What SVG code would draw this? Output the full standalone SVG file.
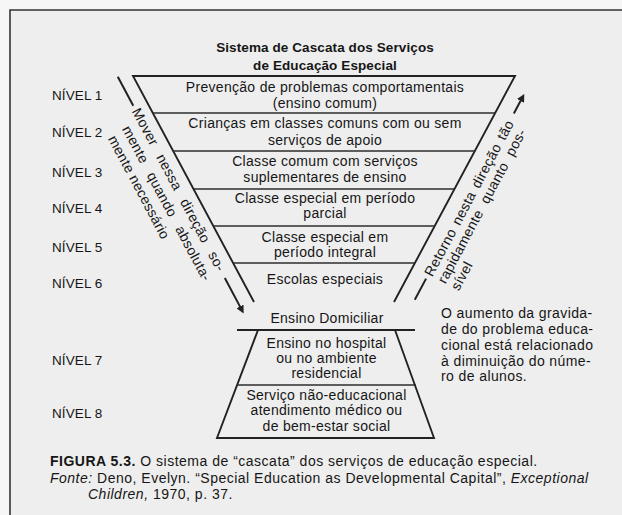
<svg xmlns="http://www.w3.org/2000/svg" width="622" height="515" viewBox="0 0 622 515">
<defs>
<marker id="ah" viewBox="0 0 10 10" refX="1" refY="5" markerWidth="4" markerHeight="4" orient="auto" markerUnits="strokeWidth">
<path d="M0,0 L10,5 L0,10 z" fill="#222"/>
</marker>
<style>
text{font-family:"Liberation Sans",Arial,sans-serif;fill:#161616;font-size:14px;letter-spacing:0.3px}
.c{text-anchor:middle}
.t{font-weight:bold;font-size:13.5px;letter-spacing:0.1px}
.lv{font-size:13.5px;letter-spacing:0.1px}
.cap{font-size:14px;letter-spacing:0.5px}
.ln{stroke:#222;stroke-width:1.9;fill:none}
.dv{stroke:#2c2c2c;stroke-width:1.7;fill:none}
.ar{stroke:#222;stroke-width:2;fill:none}
</style>
</defs>
<rect x="0" y="0" width="622" height="515" fill="#f6f6f6"/>
<rect x="10" y="10" width="612" height="505" fill="#eeeeee"/>
<path d="M10,515 L10,10 L622,10" stroke="#333" stroke-width="1.6" fill="none"/>

<g id="title">
<text class="t c" x="325" y="52">Sistema de Cascata dos Serviços</text>
<text class="t c" x="325" y="70">de Educação Especial</text>
</g>

<g id="levels">
<text class="lv" x="52" y="100">NÍVEL 1</text>
<text class="lv" x="52" y="137">NÍVEL 2</text>
<text class="lv" x="52" y="177">NÍVEL 3</text>
<text class="lv" x="52" y="213">NÍVEL 4</text>
<text class="lv" x="52" y="252">NÍVEL 5</text>
<text class="lv" x="52" y="288">NÍVEL 6</text>
<text class="lv" x="52" y="365">NÍVEL 7</text>
<text class="lv" x="52" y="418">NÍVEL 8</text>
</g>

<g id="upper-cascade">
<path class="ln" d="M254,302 L133,76 L515,76 L394,302"/>
<line class="dv" x1="152.8" y1="113" x2="495.2" y2="113"/>
<line class="dv" x1="173.2" y1="151" x2="474.8" y2="151"/>
<line class="dv" x1="193.6" y1="189" x2="454.4" y2="189"/>
<line class="dv" x1="213.4" y1="226" x2="434.6" y2="226"/>
<line class="dv" x1="233.2" y1="263" x2="414.8" y2="263"/>
</g>

<g id="n1"><text class="c" x="325" y="92">Prevenção de problemas comportamentais</text><text class="c" x="325" y="108">(ensino comum)</text></g>
<g id="n2"><text class="c" x="325" y="128">Crianças em classes comuns com ou sem</text><text class="c" x="325" y="145">serviços de apoio</text></g>
<g id="n3"><text class="c" x="325" y="166">Classe comum com serviços</text><text class="c" x="325" y="182">suplementares de ensino</text></g>
<g id="n4"><text class="c" x="325" y="203">Classe especial em período</text><text class="c" x="325" y="218">parcial</text></g>
<g id="n5"><text class="c" x="325" y="242">Classe especial em</text><text class="c" x="325" y="257">período integral</text></g>
<g id="n6"><text class="c" x="325" y="284">Escolas especiais</text></g>

<g id="n-domiciliar">
<text class="c" x="327" y="323">Ensino Domiciliar</text>
<line class="ln" x1="237" y1="330" x2="415" y2="330"/>
</g>

<g id="lower-cascade">
<path class="ln" d="M258,330 L217,438 L434,438 L395,330"/>
<line class="dv" x1="237" y1="385" x2="416" y2="385"/>
</g>
<g id="n7"><text class="c" x="326.5" y="348">Ensino no hospital</text><text class="c" x="326.5" y="363">ou no ambiente</text><text class="c" x="326.5" y="378">residencial</text></g>
<g id="n8"><text class="c" x="326.5" y="400">Serviço não-educacional</text><text class="c" x="326.5" y="415">atendimento médico ou</text><text class="c" x="326.5" y="431">de bem-estar social</text></g>

<g id="connectors">
<g transform="rotate(62)">
<line class="ar" x1="123" y1="-68" x2="156" y2="-68"/>
<line class="ar" x1="351" y1="-68" x2="384" y2="-68" marker-end="url(#ah)"/>
</g>
<g transform="rotate(-62)">
<line class="ar" x1="-70" y1="507" x2="-46" y2="507"/>
<line class="ar" x1="141" y1="507" x2="156" y2="507" marker-end="url(#ah)"/>
</g>
</g>

<g id="note-down" transform="rotate(62)">
<text x="160" y="-64" word-spacing="7.5">Mover nessa direção so-</text>
<text x="171" y="-47" word-spacing="8">mente quando absoluta-</text>
<text x="173" y="-30">mente necessário</text>
</g>

<g id="note-up" transform="rotate(-62)">
<text x="-42" y="512" word-spacing="2">Retorno nesta direção tão</text>
<text x="-42" y="527" word-spacing="5">rapidamente quanto pos-</text>
<text x="-42" y="542">sível</text>
</g>

<g id="note-right">
<text x="441" y="318" style="letter-spacing:0.4px">O aumento da gravida-</text>
<text x="441" y="334" style="letter-spacing:0.4px">de do problema educa-</text>
<text x="441" y="350" style="letter-spacing:0.4px">cional está relacionado</text>
<text x="441" y="366" style="letter-spacing:0.4px">à diminuição do núme-</text>
<text x="441" y="381" style="letter-spacing:0.4px">ro de alunos.</text>
</g>

<g id="caption">
<text class="cap" x="50" y="466"><tspan font-weight="bold">FIGURA 5.3.</tspan> O sistema de “cascata” dos serviços de educação especial.</text>
<text class="cap" x="50" y="483"><tspan font-style="italic">Fonte:</tspan> Deno, Evelyn. “Special Education as Developmental Capital”, <tspan font-style="italic">Exceptional</tspan></text>
<text class="cap" x="88" y="499"><tspan font-style="italic">Children,</tspan> 1970, p. 37.</text>
</g>
</svg>
